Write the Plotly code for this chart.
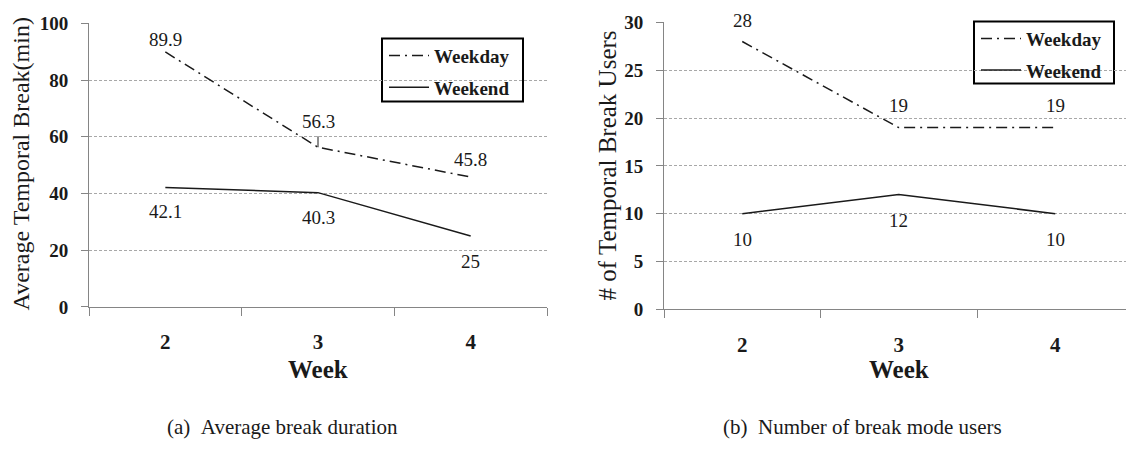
import plotly.graph_objects as go

# ---------------- data ----------------
weeks = [2, 3, 4]
week_labels = ["2", "3", "4"]
series_names = ["Weekday", "Weekend"]

duration_weekday = [89.9, 56.3, 45.8]
duration_weekend = [42.1, 40.3, 25]

users_weekday = [28, 19, 19]
users_weekend = [10, 12, 10]

dur_ticks = [0, 20, 40, 60, 80, 100]
user_ticks = [0, 5, 10, 15, 20, 25, 30]

# ---------------- styles ----------------
FONT = "Liberation Serif, DejaVu Serif, serif"
INK = "#1a1a1a"
AXIS = "#858585"
GRID = "#a8a8a8"
DASHDOT = "11px,5px,2px,5px"

# per-point label pixel offsets (negative = below)
dur_weekday_shift = [12, 26, 18]
dur_weekend_shift = [-24, -25, -25]
usr_weekday_shift = [21, 22, 22]
usr_weekend_shift = [-26, -26, -26]

fig = go.Figure()

def add_series(xref, yref, ys, name, dash, legend):
    fig.add_trace(go.Scatter(
        x=weeks, y=ys, mode="lines", name=name, legendgroup=legend + name,
        line=dict(color=INK, width=1.5, dash=dash),
        xaxis=xref, yaxis=yref, legend=legend, showlegend=True,
        hoverinfo="skip"))

add_series("x", "y", duration_weekday, series_names[0], DASHDOT, "legend")
add_series("x", "y", duration_weekend, series_names[1], "solid", "legend")
add_series("x2", "y2", users_weekday, series_names[0], DASHDOT, "legend2")
add_series("x2", "y2", users_weekend, series_names[1], "solid", "legend2")

annotations = []
def add_labels(xref, yref, ys, shifts):
    for xv, yv, s in zip(weeks, ys, shifts):
        annotations.append(dict(
            x=xv, y=yv, xref=xref, yref=yref, text=f"{yv:g}",
            showarrow=False, yshift=s, xanchor="center", yanchor="middle",
            font=dict(family=FONT, size=19, color=INK)))

add_labels("x", "y", duration_weekday, dur_weekday_shift)
add_labels("x", "y", duration_weekend, dur_weekend_shift)
add_labels("x2", "y2", users_weekday, usr_weekday_shift)
add_labels("x2", "y2", users_weekend, usr_weekend_shift)

# axis titles and captions
def text_ann(text, x, y, size, bold=False, angle=0):
    annotations.append(dict(
        text=text, x=x, y=y, xref="paper", yref="paper", showarrow=False,
        xanchor="center", yanchor="middle", textangle=angle,
        font=dict(family=FONT, size=size, color=INK,
                  weight="bold" if bold else "normal")))

W, H = 1126, 449
text_ann("Average Temporal Break(min)", 21 / W, 1 - 162 / H, 24, angle=-90)
text_ann("# of Temporal Break Users", 607 / W, 1 - 163 / H, 25, angle=-90)
text_ann("Week", 318 / W, 1 - 377 / H, 25, bold=True)
text_ann("Week", 899 / W, 1 - 377 / H, 25, bold=True)
text_ann("(a)\u2002Average break duration", 282 / W, 1 - 437 / H, 21)
text_ann("(b)\u2002Number of break mode users", 862 / W, 1 - 437 / H, 21)

# leader line for the 56.3 label, and the legend frames
shapes = [dict(type="line", xref="x", yref="y", x0=weeks[1], x1=weeks[1],
               ysizemode="pixel", yanchor=duration_weekday[1], y0=0, y1=11,
               line=dict(color=INK, width=1))]
for (x0, x1, y0, y1) in [(382, 523, 30, 96), (974, 1114, 12, 77)]:
    shapes.append(dict(type="rect", xref="paper", yref="paper",
                       x0=x0 / W, x1=x1 / W, y0=1 - y1 / H, y1=1 - y0 / H,
                       fillcolor="white", layer="between",
                       line=dict(color="black", width=2)))

def xaxis_cfg(domain, rng):
    return dict(
        domain=domain, range=rng, tickmode="array", tickvals=weeks,
        ticktext=week_labels, ticks="", showline=True, linecolor=AXIS,
        linewidth=1, showgrid=False, zeroline=False,
        tickfont=dict(family=FONT, size=21, color=INK, weight="bold"),
        ticklabelstandoff=16,
        minor=dict(tickmode="array", tickvals=[1.5, 2.5, 3.5, 4.5],
                   ticks="outside", ticklen=8, tickcolor=AXIS, tickwidth=1,
                   showgrid=False))

def yaxis_cfg(domain, rng, tv, anchor):
    return dict(
        domain=domain, range=rng, tickmode="array", tickvals=tv,
        ticks="outside", ticklen=7, tickcolor=AXIS, tickwidth=1,
        showline=True, linecolor=AXIS, linewidth=1, anchor=anchor,
        showgrid=True, gridcolor=GRID, gridwidth=1, griddash="3px,2px",
        zeroline=False, ticklabelstandoff=9,
        tickfont=dict(family=FONT, size=19, color=INK, weight="bold"))

def legend_cfg(x, y):
    return dict(x=x, y=y, xanchor="left", yanchor="top",
                borderwidth=0, bgcolor="rgba(0,0,0,0)",
                font=dict(family=FONT, size=19, color=INK, weight="bold"),
                tracegroupgap=4, itemwidth=40)

fig.update_layout(
    width=W, height=H, margin=dict(l=0, r=0, t=0, b=0),
    paper_bgcolor="white", plot_bgcolor="white",
    xaxis=xaxis_cfg([89 / W, 547 / W], [1.5, 4.5]),
    yaxis=yaxis_cfg([1 - 311.5 / H, 1 - 14 / H], [0, 100], dur_ticks, "x"),
    xaxis2=dict(xaxis_cfg([664 / W, 1.0], [1.5, 1.5 + 462 / 156.5]), anchor="y2"),
    yaxis2=yaxis_cfg([1 - 314 / H, 1 - 13 / H], [0, 30], user_ticks, "x2"),
    legend=legend_cfg(384 / W, 1 - 28 / H),
    legend2=legend_cfg(976 / W, 1 - 10 / H),
    annotations=annotations, shapes=shapes, showlegend=True,
)

fig.write_html("out.html")
